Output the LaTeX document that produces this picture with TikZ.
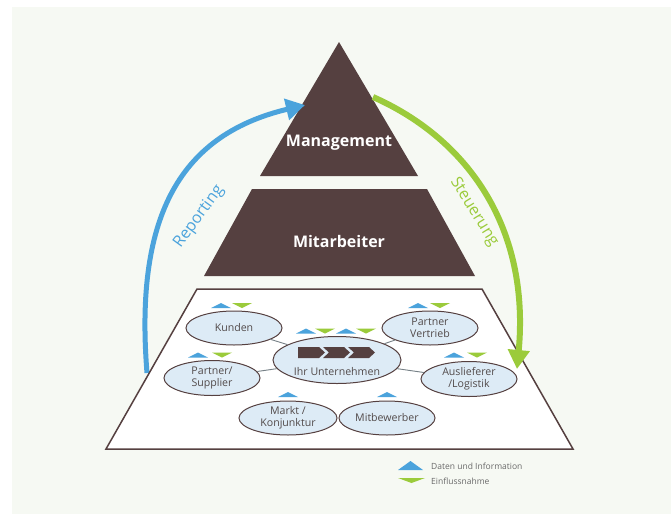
\documentclass[tikz,border=0pt]{standalone}
\usepackage{fontspec}
\setmainfont{Open Sans}
\usetikzlibrary{shapes.geometric,arrows.meta}
\definecolor{braun}{RGB}{85,64,64}
\definecolor{blau}{RGB}{75,163,220}
\definecolor{gruen}{RGB}{155,203,59}
\definecolor{hell}{RGB}{221,235,246}
\definecolor{grund}{RGB}{246,249,243}
\definecolor{schrift}{RGB}{82,74,74}
\definecolor{linie}{RGB}{118,128,134}
\definecolor{legtext}{RGB}{105,105,105}
\tikzset{
  feld/.style={shape=ellipse,draw=braun,line width=1pt,fill=hell,inner sep=0pt,minimum width=96pt,minimum height=34pt,align=center,font=\fontsize{10.6}{12}\selectfont,text=schrift},
  feldtext/.style={inner sep=0pt,font=\fontsize{10.6}{12}\selectfont,text=schrift},
  ebene/.style={fill=braun,draw=none},
  ebenentext/.style={text=white,font=\fontsize{16}{18}\selectfont\bfseries},
  verbindung/.style={draw=linie,line width=0.9pt},
  daten/.style={fill=blau},
  einfluss/.style={fill=gruen},
  bogen/.style={line width=5pt,-{Triangle[length=19pt,width=21pt]}},
  bogentext/.style={font=\fontsize{16}{18}\selectfont},
  legende/.style={anchor=west,inner sep=0pt,text=legtext,font=\fontsize{8.5}{10}\selectfont},
}
\newcommand{\datenpfeil}[2]{\fill[daten] (#1-10,#2+2.5) -- (#1,#2-2.5) -- (#1+10,#2+2.5) -- cycle;}
\newcommand{\einflusspfeil}[2]{\fill[einfluss] (#1-10,#2-2.5) -- (#1+10,#2-2.5) -- (#1,#2+2.5) -- cycle;}
\begin{document}
\begin{tikzpicture}[x=1pt,y=-1pt]
\useasboundingbox (0,0) rectangle (671,514);
\fill[grund] (12,7) rectangle (671,514);
\fill[ebene] (339,42) -- (418,176) -- (260,176) -- cycle;
\fill[ebene] (252,189) -- (427,189) -- (475,276) -- (204,276) -- cycle;
\node (management) at (339,143) [ebenentext] {Management};
\node (mitarbeiter) at (339,241) [ebenentext] {Mitarbeiter};
\coordinate (rstart) at (147,373);
\coordinate (rziel) at (305,105);
\coordinate (sstart) at (373,97);
\coordinate (sziel) at (517,369);
\draw[bogen,draw=blau] (rstart) .. controls (135,223) and (175,136) .. (rziel);
\draw[braun,line width=1.5pt,fill=white] (197,289) -- (482,289) -- (573,449) -- (106,449) -- cycle;
\draw[bogen,draw=gruen,line width=6pt] (sstart) .. controls (470,140) and (530,230) .. (sziel);
\node (reporting) at (199,217) [rotate=54,text=blau,bogentext] {Reporting};
\node (steuerung) at (474,212) [rotate=-58,text=gruen,bogentext] {Steuerung};
\node (kunden) at (234,328) [feld] {Kunden};
\node (vertrieb) at (430,328) [feld] {Partner\\Vertrieb};
\node (unternehmen) at (337,360) [feld,minimum width=128pt,minimum height=47pt] {};
\node (supplier) at (212,378) [feld,minimum height=35pt] {Partner/\\Supplier};
\node (logistik) at (469,379) [feld,minimum height=35pt] {Auslieferer\\/Logistik};
\node (markt) at (288,418) [feld,minimum width=98pt] {Markt /\\Konjunktur};
\node (mitbewerber) at (387,418) [feld] {Mitbewerber};
\node (unternehmenstext) at (337,372) [feldtext] {Ihr Unternehmen};
\draw[verbindung] (kunden) -- (unternehmen);
\draw[verbindung] (vertrieb) -- (unternehmen);
\draw[verbindung] (supplier) -- (unternehmen);
\draw[verbindung] (logistik) -- (unternehmen);
\fill[braun] (298,347) -- (319,347) -- (325,352.5) -- (319,358) -- (298,358) -- cycle;
\fill[braun] (323,347) -- (344,347) -- (350,352.5) -- (344,358) -- (323,358) -- (329,352.5) -- cycle;
\fill[braun] (348,347) -- (369,347) -- (375,352.5) -- (369,358) -- (348,358) -- (354,352.5) -- cycle;
\datenpfeil{221}{305.5}
\einflusspfeil{242}{305.5}
\datenpfeil{418}{305.5}
\einflusspfeil{440}{305.5}
\datenpfeil{306}{331}
\einflusspfeil{325}{331}
\datenpfeil{346}{331}
\einflusspfeil{366}{331}
\datenpfeil{198}{355}
\einflusspfeil{222}{355}
\datenpfeil{454}{355}
\einflusspfeil{477}{355}
\datenpfeil{288}{394.5}
\datenpfeil{387}{394.5}
\fill[daten] (398,470) -- (410.5,461) -- (423,470) -- cycle;
\fill[einfluss] (398,478) -- (425,478) -- (411.5,483) -- cycle;
\node (legende1) at (431,466) [legende] {Daten und Information};
\node (legende2) at (431,481) [legende] {Einflussnahme};
\end{tikzpicture}
\end{document}
